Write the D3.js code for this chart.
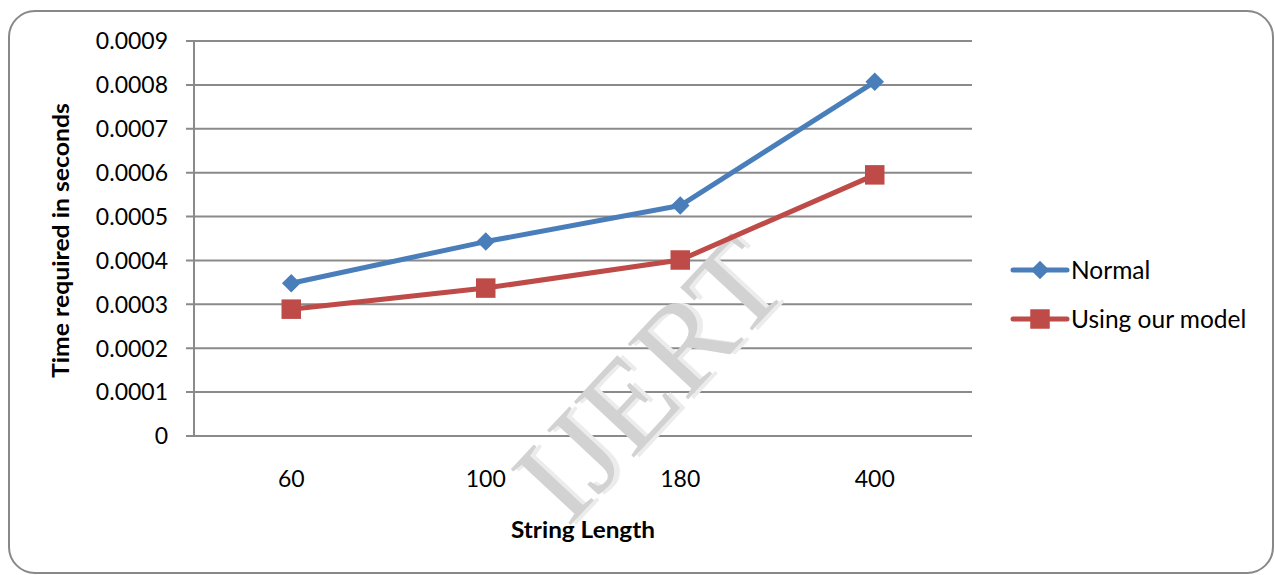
<!DOCTYPE html>
<html><head><meta charset="utf-8">
<script src="https://cdn.jsdelivr.net/npm/d3@7"></script>
<style>html,body{margin:0;padding:0;background:#fff;}svg{display:block;}</style>
</head><body>
<svg id="c" width="1275" height="575"></svg>
<script>
const categories = ["60", "100", "180", "400"];
const normalValues = [0.000348, 0.000443, 0.000525, 0.000807];
const modelValues = [0.000289, 0.000337, 0.000401, 0.000595];
const yTicks = [0, 0.0001, 0.0002, 0.0003, 0.0004, 0.0005, 0.0006, 0.0007, 0.0008, 0.0009];
const seriesNames = ["Normal", "Using our model"];

(function () {
const svg = d3.select("#c");
const font = "Lato, 'Open Sans', sans-serif";
const pLeft = 194, pRight = 972, pTop = 41, pBottom = 436;

svg.append("rect").attr("x", 9).attr("y", 11).attr("width", 1264).attr("height", 562)
  .attr("rx", 26).attr("fill", "#fff").attr("stroke", "#888").attr("stroke-width", 2);

const x = d3.scaleBand().domain(categories).range([pLeft, pRight]);
const y = d3.scaleLinear().domain([0, 0.0009]).range([pBottom, pTop]);

// gridlines
svg.append("g").selectAll("line").data(yTicks).join("line")
  .attr("x1", pLeft - 8).attr("x2", pRight).attr("y1", d => y(d)).attr("y2", d => y(d))
  .attr("stroke", "#8a8a8a").attr("stroke-width", 2);
svg.append("line").attr("x1", pLeft).attr("x2", pLeft).attr("y1", pTop).attr("y2", pBottom)
  .attr("stroke", "#8a8a8a").attr("stroke-width", 2);

// y tick labels
svg.append("g").selectAll("text").data(yTicks).join("text")
  .attr("x", 168).attr("y", d => y(d)).attr("dy", "0.36em").attr("text-anchor", "end")
  .attr("font-family", font).attr("font-size", 23).attr("fill", "#000")
  .text(d => d === 0 ? "0" : d3.format(".4f")(d));

// x tick labels
svg.append("g").selectAll("text").data(categories).join("text")
  .attr("x", d => x(d) + x.bandwidth() / 2).attr("y", 487).attr("text-anchor", "middle")
  .attr("font-family", font).attr("font-size", 23).attr("fill", "#000").text(d => d);

// axis titles
svg.append("text").attr("x", 511).attr("y", 538)
  .attr("textLength", 144).attr("lengthAdjust", "spacingAndGlyphs")
  .attr("font-family", font).attr("font-size", 22.5).attr("font-weight", "bold").text("String Length");
svg.append("text").attr("transform", "translate(69,378) rotate(-90)")
  .attr("textLength", 275).attr("lengthAdjust", "spacingAndGlyphs")
  .attr("font-family", font).attr("font-size", 22.5).attr("font-weight", "bold").text("Time required in seconds");

// watermark
const wm = svg.append("g").attr("transform", "translate(648,378) rotate(-47)");
wm.append("text").attr("x", 4).attr("y", 4).attr("text-anchor", "middle").attr("dy", "0.35em")
  .attr("font-family", "'Liberation Serif', serif").attr("font-size", 125)
  .attr("textLength", 330).attr("lengthAdjust", "spacingAndGlyphs")
  .attr("fill", "#ececec").text("IJERT");
wm.append("text").attr("x", 0).attr("y", 0).attr("text-anchor", "middle").attr("dy", "0.35em")
  .attr("font-family", "'Liberation Serif', serif").attr("font-size", 125)
  .attr("textLength", 330).attr("lengthAdjust", "spacingAndGlyphs")
  .attr("fill", "#d2d2d2").text("IJERT");

const colors = ["#4a7ebb", "#be4b48"];
const allSeries = [normalValues, modelValues];
const line = d3.line().x((d, i) => x(categories[i]) + x.bandwidth() / 2).y(d => y(d));
const diamond = d3.symbol().type(d3.symbolDiamond2).size(220);
const square = d3.symbol().type(d3.symbolSquare).size(380);

allSeries.forEach((vals, si) => {
  svg.append("path").datum(vals).attr("d", line).attr("fill", "none")
    .attr("stroke", colors[si]).attr("stroke-width", 5).attr("stroke-linejoin", "round");
  svg.append("g").selectAll("path").data(vals).join("path")
    .attr("transform", (d, i) => `translate(${x(categories[i]) + x.bandwidth() / 2},${y(d)})`)
    .attr("d", si === 0 ? diamond : square).attr("fill", colors[si]);
});

// legend
const lg = svg.append("g");
seriesNames.forEach((name, i) => {
  const ly = 270 + i * 49;
  lg.append("line").attr("x1", 1013).attr("x2", 1067).attr("y1", ly).attr("y2", ly)
    .attr("stroke", colors[i]).attr("stroke-width", 5).attr("stroke-linecap", "round");
  lg.append("path").attr("transform", `translate(1040,${ly})`)
    .attr("d", i === 0 ? diamond : square).attr("fill", colors[i]);
  lg.append("text").attr("x", 1071).attr("y", ly).attr("dy", "0.36em")
    .attr("font-family", font).attr("font-size", 24.5).attr("fill", "#000").text(name);
});
})();
</script>
</body></html>
